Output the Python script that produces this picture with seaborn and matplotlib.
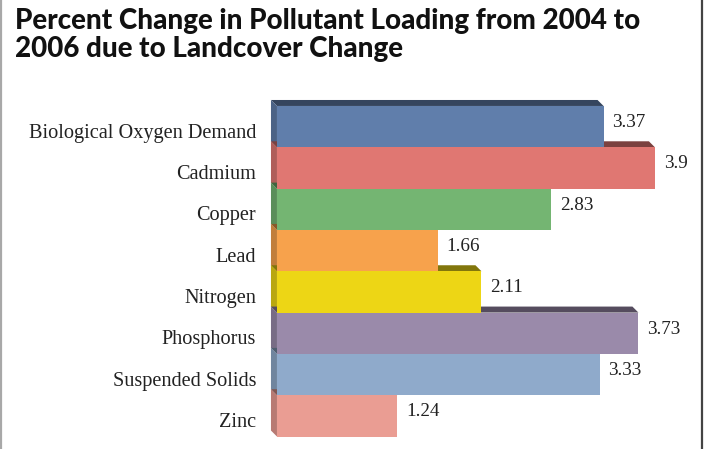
import matplotlib
matplotlib.use("Agg")
import matplotlib.pyplot as plt
from matplotlib.patches import Polygon
from matplotlib.lines import Line2D
from matplotlib.transforms import ScaledTranslation
import matplotlib.colors as mcolors
import seaborn as sns
import pandas as pd

categories = ["Biological Oxygen Demand", "Cadmium", "Copper", "Lead",
              "Nitrogen", "Phosphorus", "Suspended Solids", "Zinc"]
values = [3.37, 3.9, 2.83, 1.66, 2.11, 3.73, 3.33, 1.24]
value_labels = ["3.37", "3.9", "2.83", "1.66", "2.11", "3.73", "3.33", "1.24"]
bar_colors = ["#607EAB", "#E07772", "#74B572", "#F7A24C",
              "#EDD615", "#9A8AAA", "#8FAACB", "#EA9D93"]

title = "Percent Change in Pollutant Loading from 2004 to\n2006 due to Landcover Change"

sns.set_theme(style="white")
plt.rcParams["font.family"] = ["Liberation Serif", "DejaVu Serif"]

df = pd.DataFrame({"category": categories, "value": values})

fig = plt.figure(figsize=(7.04, 4.49), dpi=100)
ax = fig.add_axes([0.3659, 0.0232, 0.6263, 0.7592])

sns.barplot(data=df, x="value", y="category", hue="category",
            palette=bar_colors, width=1.0, orient="h", legend=False,
            saturation=1.0, linewidth=0, ax=ax)

ax.set_xlim(-0.2, 4.35)
ax.set_ylim(7.55, -0.7)

# depth of the extruded bars (offset toward upper left)
dx, dy = 0.062, 0.145

def shade(color, f):
    r, g, b = mcolors.to_rgb(color)
    return (r * f, g * f, b * f)

for patch, col in zip(ax.patches, bar_colors):
    x0 = patch.get_x()
    x1 = x0 + patch.get_width()
    ytop = patch.get_y()
    ybot = ytop + patch.get_height()
    patch.set_zorder(3)
    patch.set_edgecolor("none")
    top_face = Polygon([(x0 - dx, ytop - dy), (x1 - dx, ytop - dy),
                        (x1, ytop), (x0, ytop)],
                       closed=True, facecolor=shade(col, 0.55),
                       edgecolor="none", zorder=2)
    side_face = Polygon([(x0 - dx, ytop - dy), (x0, ytop),
                         (x0, ybot), (x0 - dx, ybot - dy)],
                        closed=True, facecolor=shade(col, 0.78),
                        edgecolor="none", zorder=2)
    ax.add_patch(top_face)
    ax.add_patch(side_face)

for i, (v, lab) in enumerate(zip(values, value_labels)):
    ax.text(v + 0.09, i - 0.1, lab, ha="left", va="center",
            fontsize=13.8, color="#222222", zorder=5)

ax.set_xlabel("")
ax.set_ylabel("")
ax.set_xticks([])
ax.tick_params(axis="y", length=0, pad=1)
for lbl in ax.get_yticklabels():
    lbl.set_fontsize(14.6)
    lbl.set_color("#222222")
    lbl.set_transform(lbl.get_transform() + ScaledTranslation(0, -4 / 100, fig.dpi_scale_trans))
for s in ax.spines.values():
    s.set_visible(False)

fig.text(15 / 704, 1 - 8 / 449, title, ha="left", va="top",
         fontsize=20, fontweight="black", color="#111111",
         family=["Lato", "Liberation Sans", "DejaVu Sans"],
         linespacing=1.1)

# outer frame edges
fig.add_artist(Line2D([1 / 704, 1 / 704], [0, 1], color="#a8a8a8", lw=1.6,
                      transform=fig.transFigure))
fig.add_artist(Line2D([701.5 / 704, 701.5 / 704], [0, 1], color="#444444", lw=1.6,
                      transform=fig.transFigure))

fig.savefig("out.png", dpi=100)
